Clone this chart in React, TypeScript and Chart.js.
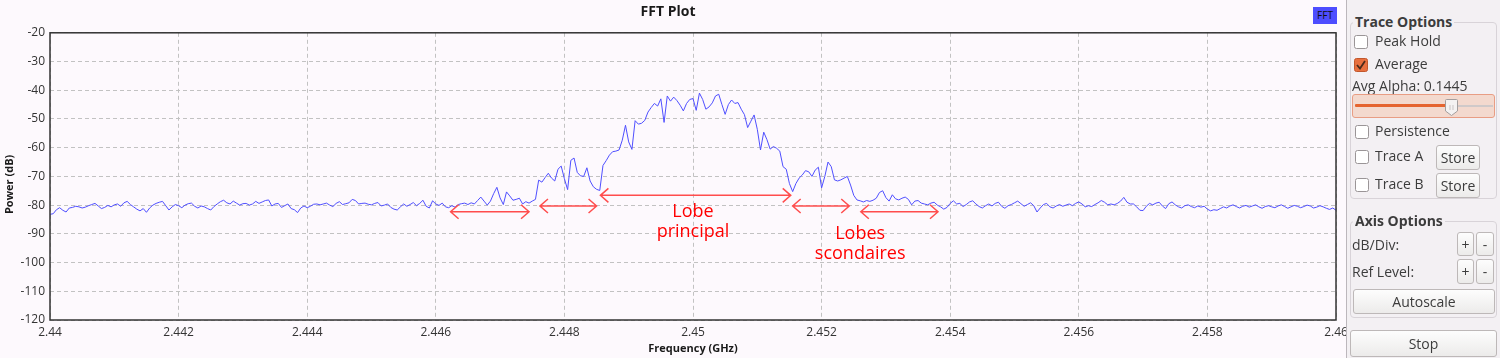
import React, { useEffect, useRef } from "react";
import { Chart, registerables } from "chart.js";

Chart.register(...registerables);

const FONT = '"Open Sans", "DejaVu Sans", sans-serif';

// FFT bins: 2.44 GHz .. 2.46 GHz, 0.00005 GHz per bin
const FREQ_START = 2.44;
const FREQ_STEP = 0.00005;

// Averaged power per bin (dB)
const powerDb: number[] = [
  -83.2, -83.0, -81.6, -80.9, -81.8, -82.4, -81.0, -80.8, -80.4, -80.6, -81.0, -80.7, -80.2, -79.8, -79.4, -80.3, -81.2, -80.8, -80.1, -80.6,
  -79.9, -79.6, -80.4, -79.2, -78.7, -79.8, -80.6, -81.4, -82.0, -81.2, -82.5, -81.0, -80.0, -79.4, -79.0, -78.7, -80.2, -81.7, -80.6, -79.8,
  -80.2, -80.9, -80.0, -79.5, -79.3, -80.4, -81.0, -80.3, -80.6, -81.2, -81.7, -80.5, -79.6, -78.8, -78.3, -79.2, -79.6, -78.6, -79.3, -80.0,
  -79.5, -79.4, -80.0, -79.6, -78.7, -79.4, -78.9, -78.4, -78.2, -80.3, -79.6, -79.4, -80.8, -80.2, -79.6, -81.2, -81.6, -82.6, -81.0, -80.3,
  -80.9, -80.4, -79.7, -79.6, -79.9, -79.6, -79.3, -80.0, -80.5, -79.4, -78.8, -79.8, -79.5, -79.2, -78.0, -78.4, -79.6, -79.4, -79.3, -79.7,
  -79.9, -79.4, -79.1, -80.3, -80.0, -79.6, -80.8, -81.4, -81.7, -80.6, -79.6, -80.4, -79.8, -79.1, -80.2, -79.4, -78.3, -80.4, -81.0, -78.5,
  -79.6, -80.1, -79.3, -80.6, -80.9, -80.2, -80.7, -79.8, -79.5, -79.3, -79.8, -79.2, -79.6, -78.4, -77.2, -78.6, -80.0, -78.6, -76.0, -73.8,
  -77.5, -79.8, -75.4, -76.8, -78.3, -78.0, -77.6, -79.6, -78.8, -79.3, -78.6, -78.0, -71.3, -72.0, -70.4, -68.9, -70.6, -71.6, -67.5, -66.4,
  -70.8, -74.6, -64.4, -63.6, -68.6, -69.8, -70.0, -67.0, -71.6, -73.6, -74.5, -74.9, -66.2, -64.5, -62.6, -61.4, -61.2, -60.8, -57.4, -52.2,
  -58.0, -60.6, -50.6, -51.8, -51.5, -50.5, -47.6, -46.0, -44.6, -45.5, -43.0, -51.2, -42.0, -43.8, -42.4, -43.6, -45.2, -47.2, -44.6, -43.2,
  -42.9, -47.0, -41.0, -43.2, -46.6, -45.8, -44.4, -42.0, -41.4, -45.0, -48.4, -45.0, -43.4, -44.6, -44.3, -46.6, -48.5, -53.0, -50.8, -48.6,
  -53.6, -60.8, -54.6, -57.2, -60.5, -59.6, -60.2, -61.2, -66.6, -67.5, -72.5, -75.3, -72.5, -70.6, -69.5, -68.0, -68.4, -70.0, -67.8, -66.8,
  -74.0, -70.0, -65.0, -66.6, -71.2, -71.6, -71.2, -70.6, -70.0, -73.0, -76.6, -78.2, -78.5, -78.9, -78.4, -78.7, -78.3, -77.6, -75.6, -75.0,
  -77.4, -78.6, -76.4, -77.8, -78.2, -77.6, -77.2, -78.0, -79.9, -78.6, -78.4, -79.3, -79.6, -79.9, -79.3, -79.0, -80.0, -80.6, -81.4, -80.8,
  -79.4, -78.5, -79.6, -79.4, -80.5, -79.8, -78.9, -78.5, -79.6, -80.5, -81.0, -80.2, -79.6, -80.3, -79.4, -79.0, -80.4, -81.1, -80.2, -79.8,
  -79.2, -78.6, -79.5, -80.4, -79.8, -79.2, -80.2, -82.4, -81.0, -79.8, -79.4, -80.6, -81.0, -80.3, -79.8, -80.4, -80.0, -79.6, -80.2, -79.4,
  -78.9, -79.6, -80.6, -80.2, -80.5, -79.8, -79.2, -78.4, -79.0, -79.9, -79.6, -79.9, -79.4, -78.6, -77.3, -79.0, -79.6, -79.6, -80.6, -81.8,
  -81.9, -80.4, -79.4, -79.9, -79.3, -79.0, -80.3, -81.2, -79.5, -78.9, -79.9, -80.6, -81.0, -80.2, -79.9, -80.5, -80.9, -80.3, -80.7, -80.4,
  -81.4, -82.0, -81.6, -81.8, -81.2, -80.6, -81.0, -80.3, -79.9, -80.5, -81.0, -80.4, -80.1, -80.7, -80.3, -79.9, -80.6, -81.1, -80.5, -80.2,
  -80.6, -80.9, -80.3, -79.9, -80.5, -81.1, -80.6, -80.1, -80.4, -80.9, -80.5, -80.0, -80.3, -81.0, -80.7, -80.2, -80.6, -81.1, -81.5, -81.0,
  -81.8,
];

const freqGHz: number[] = powerDb.map((_, i) => +(FREQ_START + i * FREQ_STEP).toFixed(5));

const xTickValues = [2.44, 2.442, 2.444, 2.446, 2.448, 2.45, 2.452, 2.454, 2.456, 2.458, 2.46];
const yTickValues = [-20, -30, -40, -50, -60, -70, -80, -90, -100, -110, -120];

// Annotation arrows (GHz from / to, dB level)
const arrowFrom = [2.44623, 2.44762, 2.44856, 2.45155, 2.45261];
const arrowTo = [2.44745, 2.4485, 2.45152, 2.45243, 2.45381];
const arrowLevel = [-82.3, -80.3, -76.6, -80.3, -82.3];

// Annotation labels (GHz, dB baseline)
const noteText = ["Lobe", "principal", "Lobes", "scondaires"];
const noteFreq = [2.45, 2.45, 2.4526, 2.4526];
const noteLevel = [-84.1, -91.1, -91.8, -98.7];

const overlayPlugin = {
  id: "overlay",
  afterDatasetsDraw(chart: any) {
    const { ctx, chartArea, scales } = chart;
    const { left, top, right, bottom } = chartArea;
    const x = scales.x;
    const y = scales.y;
    ctx.save();
    // arrows
    ctx.strokeStyle = "#ff4d4d";
    ctx.lineWidth = 1.5;
    for (let i = 0; i < arrowFrom.length; i++) {
      const x1 = x.getPixelForValue(arrowFrom[i]);
      const x2 = x.getPixelForValue(arrowTo[i]);
      const yy = y.getPixelForValue(arrowLevel[i]);
      ctx.beginPath();
      ctx.moveTo(x1, yy);
      ctx.lineTo(x2, yy);
      ctx.moveTo(x1 + 8, yy - 7);
      ctx.lineTo(x1, yy);
      ctx.lineTo(x1 + 8, yy + 7);
      ctx.moveTo(x2 - 8, yy - 7);
      ctx.lineTo(x2, yy);
      ctx.lineTo(x2 - 8, yy + 7);
      ctx.stroke();
    }
    // labels
    ctx.fillStyle = "#ff0000";
    ctx.font = `18px ${FONT}`;
    ctx.textAlign = "center";
    ctx.textBaseline = "alphabetic";
    for (let i = 0; i < noteText.length; i++) {
      ctx.fillText(noteText[i], x.getPixelForValue(noteFreq[i]), y.getPixelForValue(noteLevel[i]));
    }
    // frame
    ctx.strokeStyle = "#333333";
    ctx.lineWidth = 1.5;
    ctx.strokeRect(left, top, right - left, bottom - top);
    // y axis title
    ctx.fillStyle = "#1a1a1a";
    ctx.font = `bold 11px ${FONT}`;
    ctx.translate(10, (top + bottom) / 2 + 8);
    ctx.rotate(-Math.PI / 2);
    ctx.textBaseline = "middle";
    ctx.fillText("Power (dB)", 0, 0);
    ctx.restore();
  },
};

function ChartView() {
  const ref = useRef<HTMLCanvasElement | null>(null);
  useEffect(() => {
    if (!ref.current) return;
    const chart = new Chart(ref.current, {
      type: "line",
      data: {
        datasets: [
          {
            label: "FFT",
            data: freqGHz.map((f, i) => ({ x: f, y: powerDb[i] })),
            borderColor: "#4f4fff",
            borderWidth: 1,
            pointRadius: 0,
            tension: 0,
            fill: false,
          },
        ],
      },
      options: {
        animation: false,
        responsive: false,
        maintainAspectRatio: false,
        layout: { padding: { left: 0, right: 10, top: 0, bottom: 0 } },
        plugins: {
          legend: { display: false },
          tooltip: { enabled: false },
          title: {
            display: true,
            text: "FFT Plot",
            color: "#1a1a1a",
            font: { family: FONT, size: 14, weight: "bold" },
            padding: { top: 4, bottom: 12 },
          },
        },
        scales: {
          x: {
            type: "linear",
            min: 2.44,
            max: 2.46,
            afterBuildTicks: (s: any) => {
              s.ticks = xTickValues.map((v) => ({ value: v }));
            },
            afterFit: (s: any) => {
              s.height = 38;
              s.paddingLeft = 0;
              s.paddingRight = 0;
            },
            ticks: {
              autoSkip: false,
              maxRotation: 0,
              padding: 5,
              color: "#333",
              font: { family: FONT, size: 12 },
              callback: (v: any) => String(parseFloat(Number(v).toFixed(4))),
            },
            grid: { color: "#c2c2c2", lineWidth: 1, drawTicks: false },
            border: { display: false, dash: [4, 3] },
            title: {
              display: true,
              text: "Frequency (GHz)",
              color: "#1a1a1a",
              font: { family: FONT, size: 11, weight: "bold" },
              padding: { top: 0, bottom: 3 },
            },
          },
          y: {
            type: "linear",
            min: -120,
            max: -20,
            afterBuildTicks: (s: any) => {
              s.ticks = yTickValues.map((v) => ({ value: v }));
            },
            afterFit: (s: any) => {
              s.width = 50;
              s.paddingTop = 0;
              s.paddingBottom = 0;
            },
            ticks: {
              autoSkip: false,
              padding: 5,
              color: "#333",
              font: { family: FONT, size: 12 },
            },
            grid: { color: "#c2c2c2", lineWidth: 1, drawTicks: false },
            border: { display: false, dash: [4, 3] },
          },
        },
      } as any,
      plugins: [overlayPlugin],
    });
    return () => chart.destroy();
  }, []);
  return <canvas ref={ref} width={1346} height={358} style={{ display: "block", width: 1346, height: 358 }} />;
}

const abs = (left: number, top: number, width?: number, height?: number): React.CSSProperties => ({
  position: "absolute",
  left,
  top,
  width,
  height,
  boxSizing: "border-box",
});

const TEXT = "#3c3c3c";
const PANEL_BG = "#f3f0f3";

function Label({ left, cy, text, bold }: { left: number; cy: number; text: string; bold?: boolean }) {
  return (
    <div
      style={{
        ...abs(left, cy - 10, undefined, 20),
        lineHeight: "20px",
        fontSize: 14,
        fontWeight: bold ? 700 : 400,
        color: TEXT,
        whiteSpace: "nowrap",
        background: bold ? PANEL_BG : "transparent",
        padding: bold ? "0 2px" : 0,
      }}
    >
      {text}
    </div>
  );
}

function Check({ left, top, checked }: { left: number; top: number; checked?: boolean }) {
  return (
    <svg style={abs(left, top, 14, 14)} width={14} height={14}>
      {checked ? (
        <>
          <rect x={0.5} y={0.5} width={13} height={13} rx={2} fill="#e8703f" stroke="#c2572c" />
          <path d="M3 7 L6 10.5 L11 3" stroke="#4a2a1c" strokeWidth={1.8} fill="none" />
        </>
      ) : (
        <rect x={0.5} y={0.5} width={13} height={13} rx={2} fill="#ffffff" stroke="#9a9597" />
      )}
    </svg>
  );
}

function Button({ left, top, width, height, text }: { left: number; top: number; width: number; height: number; text: string }) {
  return (
    <div
      style={{
        ...abs(left, top, width, height),
        border: "1px solid #bdb8b8",
        borderRadius: 3,
        background: "linear-gradient(#fdfdfd, #ecebea)",
        color: TEXT,
        fontSize: 14,
        display: "flex",
        alignItems: "center",
        justifyContent: "center",
      }}
    >
      {text}
    </div>
  );
}

function Panel() {
  return (
    <>
      <div style={{ ...abs(1346, -4, 158, 366), background: PANEL_BG, border: "1px solid #bcb7bc", borderRadius: 4 }} />
      {/* Trace options group */}
      <div style={{ ...abs(1350, 22, 147, 177), border: "1px solid #d8d3d8", borderRadius: 4 }} />
      <Label left={1353} cy={22} text="Trace Options" bold />
      <Check left={1354} top={35} />
      <Label left={1375} cy={41} text="Peak Hold" />
      <Check left={1354} top={58} checked />
      <Label left={1375} cy={64} text="Average" />
      <Label left={1352} cy={86} text="Avg Alpha: 0.1445" />
      <div style={{ ...abs(1352, 94, 143, 24), background: "#f3d9ce", border: "1px solid #e89d84", borderRadius: 3 }} />
      <div style={{ ...abs(1355, 104, 94, 3), background: "#e5642f", borderRadius: 1 }} />
      <div style={{ ...abs(1456, 105, 37, 2), background: "#cfc9c9" }} />
      <svg style={abs(1445, 99, 13, 17)} width={13} height={17}>
        <path d="M0.5 1.5 Q0.5 0.5 1.5 0.5 L11.5 0.5 Q12.5 0.5 12.5 1.5 L12.5 12 L6.5 16.5 L0.5 12 Z" fill="#f4f2f2" stroke="#a39e9e" />
        <path d="M5 6 L5 11 M8 6 L8 11" stroke="#c9c4c4" />
      </svg>
      <Check left={1355} top={125} />
      <Label left={1375} cy={131} text="Persistence" />
      <Check left={1355} top={150} />
      <Label left={1375} cy={156} text="Trace A" />
      <Button left={1436} top={145} width={44} height={25} text="Store" />
      <Check left={1355} top={178} />
      <Label left={1375} cy={184} text="Trace B" />
      <Button left={1436} top={173} width={44} height={25} text="Store" />
      {/* Axis options group */}
      <div style={{ ...abs(1350, 221, 147, 97), border: "1px solid #d8d3d8", borderRadius: 4 }} />
      <Label left={1353} cy={221} text="Axis Options" bold />
      <Label left={1352} cy={245} text="dB/Div:" />
      <Button left={1457} top={232} width={17} height={24} text="+" />
      <Button left={1476} top={232} width={18} height={24} text="-" />
      <Label left={1352} cy={272} text="Ref Level:" />
      <Button left={1457} top={259} width={17} height={25} text="+" />
      <Button left={1476} top={259} width={18} height={25} text="-" />
      <Button left={1353} top={289} width={142} height={25} text="Autoscale" />
      <Button left={1350} top={330} width={147} height={27} text="Stop" />
    </>
  );
}

export default function App() {
  return (
    <div
      style={{
        position: "fixed",
        left: 0,
        top: 0,
        width: 1500,
        height: 358,
        overflow: "hidden",
        background: "#fdf9fd",
        fontFamily: FONT,
      }}
    >
      <div style={abs(0, 0, 1346, 358)}>
        <ChartView />
      </div>
      <div
        style={{
          ...abs(1313, 7, 24, 17),
          background: "#4d4dff",
          color: "#111",
          fontSize: 10,
          lineHeight: "17px",
          textAlign: "center",
        }}
      >
        FFT
      </div>
      <Panel />
    </div>
  );
}
